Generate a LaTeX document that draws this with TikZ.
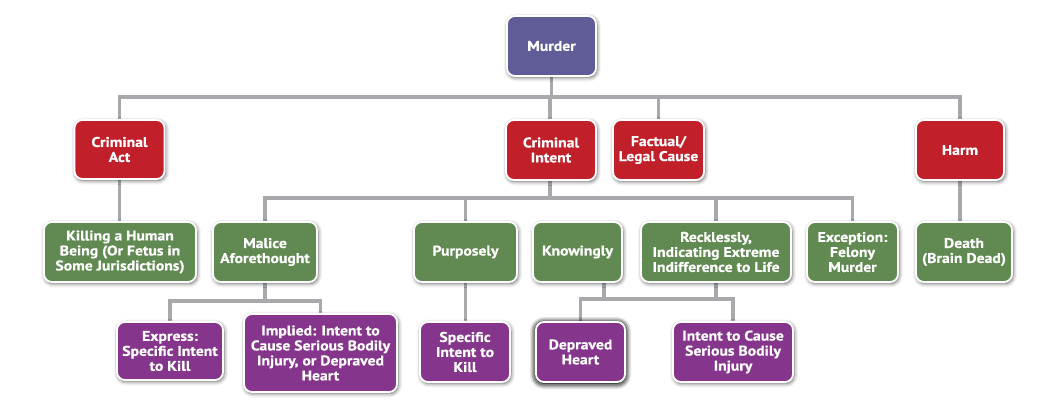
\documentclass[tikz,border=0pt]{standalone}
\usepackage{fontspec}
\setmainfont{PT Sans}[BoldFont={PT Sans Bold}, BoldFeatures={FakeStretch=1.12, FakeBold=0.6}]
\usetikzlibrary{shadows.blur,backgrounds,calc}

\definecolor{topblue}{RGB}{95,92,152}
\definecolor{actred}{RGB}{193,32,43}
\definecolor{elemgreen}{RGB}{96,138,81}
\definecolor{subpurple}{RGB}{133,53,140}
\definecolor{linegray}{RGB}{167,169,172}

\tikzset{
  box/.style={rectangle, rounded corners=8pt, draw=white, line width=1.8pt,
    inner sep=0pt, align=center, text=white,
    font=\fontsize{14}{15}\selectfont\bfseries,
    blur shadow={shadow xshift=1pt, shadow yshift=-1.5pt,
      shadow blur radius=4pt, shadow opacity=65}},
  topbox/.style={box, fill=topblue},
  redbox/.style={box, fill=actred},
  greenbox/.style={box, fill=elemgreen},
  purplebox/.style={box, fill=subpurple},
  conn/.style={draw=linegray, line width=3.6pt},
}

\begin{document}
\begin{tikzpicture}[x=1pt,y=-1pt]
\useasboundingbox (0,0) rectangle (1055,402);

% top
\node[topbox, minimum width=89pt, minimum height=60pt] (murder) at (551.5,46) {Murder};

% elements
\node[redbox, minimum width=90pt, minimum height=59pt] (act) at (119.5,149.5) {Criminal\\Act};
\node[redbox, minimum width=90pt, minimum height=60pt] (intent) at (551,150) {Criminal\\Intent};
\node[redbox, minimum width=91pt, minimum height=60pt] (cause) at (658.5,150) {Factual/\\Legal Cause};
\node[redbox, minimum width=88pt, minimum height=60pt] (harm) at (960,150) {Harm};

% second level
\node[greenbox, minimum width=152pt, minimum height=60pt] (kill) at (120,252) {Killing a Human\\Being (Or Fetus in\\Some Jurisdictions)};
\node[greenbox, minimum width=104pt, minimum height=60pt] (malice) at (265,252) {Malice\\Aforethought};
\node[greenbox, minimum width=103pt, minimum height=60pt] (purposely) at (465.5,252) {Purposely};
\node[greenbox, minimum width=89pt, minimum height=60pt] (knowingly) at (577.5,252) {Knowingly};
\node[greenbox, minimum width=150pt, minimum height=60pt] (reckless) at (716,252) {Recklessly,\\Indicating Extreme\\Indifference to Life};
\node[greenbox, minimum width=91pt, minimum height=60pt] (felony) at (852.5,252) {Exception:\\Felony\\Murder};
\node[greenbox, minimum width=96pt, minimum height=60pt] (death) at (964,252) {Death\\(Brain Dead)};

% third level
\node[purplebox, minimum width=106pt, minimum height=58pt] (express) at (170,351) {Express:\\Specific Intent\\to Kill};
\node[purplebox, minimum width=153pt, minimum height=78pt] (implied) at (320.5,353) {Implied: Intent to\\Cause Serious Bodily\\Injury, or Depraved\\Heart};
\node[purplebox, minimum width=90pt, minimum height=60pt] (specific) at (465,352) {Specific\\Intent to\\Kill};
\node[purplebox, minimum width=89pt, minimum height=60pt,
  blur shadow={shadow xshift=0pt, shadow yshift=-1pt, shadow blur radius=6pt, shadow opacity=95}] (depraved) at (580.5,352) {Depraved\\Heart};
\node[purplebox, minimum width=120pt, minimum height=60pt] (bodily) at (733,352) {Intent to Cause\\Serious Bodily\\Injury};

% bus lines
\coordinate (busA) at (550,97);
\coordinate (busB) at (550,198);
\coordinate (busC) at (265,301);
\coordinate (busD) at (604,299);
\coordinate (knowdrop) at (604,282);

\begin{scope}[on background layer]
  % first level
  \draw[conn] (murder.south) -- (murder.south |- busA);
  \draw[conn] (act.north) |- (busA) -| (harm.north);
  \draw[conn] (intent.north -| busA) -- (busA);
  \draw[conn] (cause.north) -- (cause.north |- busA);
  % element to second level
  \draw[conn] (act.south) -- (act.south |- kill.north);
  \draw[conn] (harm.south) -- (harm.south |- death.north);
  \draw[conn] (intent.south -| busB) -- (busB);
  \draw[conn] (malice.north) |- (busB) -| (felony.north);
  \draw[conn] (purposely.north) -- (purposely.north |- busB);
  \draw[conn] (knowingly.north -| knowdrop) -- (knowingly.north -| knowdrop |- busB);
  \draw[conn] (reckless.north) -- (reckless.north |- busB);
  % second level to third level
  \draw[conn] (malice.south) -- (busC);
  \draw[conn] (express.north) |- (busC) -| (implied.north);
  \draw[conn] (purposely.south) -- (purposely.south |- specific.north);
  \draw[conn] (knowdrop) -- (busD);
  \draw[conn] (reckless.south) -- (reckless.south |- busD);
  \draw[conn] (depraved.north) |- (busD) -| (bodily.north);
\end{scope}
\end{tikzpicture}
\end{document}
